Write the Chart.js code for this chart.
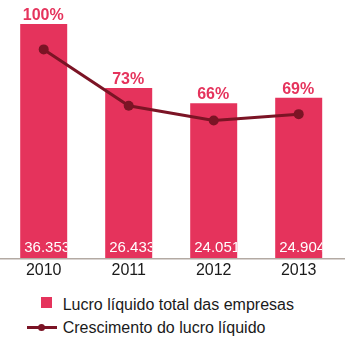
<!DOCTYPE html>
<html>
<head>
<meta charset="utf-8">
<script src="https://cdn.jsdelivr.net/npm/chart.js@4"></script>
<style>
    body { margin: 0; background: #fff; }
    #wrap { position: relative; width: 345px; height: 341px; }
    #chart { position: absolute; left: 0; top: 0; }
    .legend-row { position: absolute; left: 0; width: 345px; height: 18px; font: 16px/18px 'Liberation Sans', Arial, sans-serif; color: #1a1a1a; }
    .legend-row span.txt { position: absolute; left: 62.7px; top: 0; white-space: nowrap; }
    .swatch { position: absolute; left: 40.7px; width: 11.6px; height: 11.6px; background: #e5335c; }
    .lineMark { position: absolute; left: 27.3px; width: 29.4px; height: 3px; background: #7b1425; }
    .lineDot { position: absolute; left: 38.2px; width: 7px; height: 7px; border-radius: 50%; background: #7b1425; }
</style>
</head>
<body>
<div id="wrap">
    <canvas id="chart" width="345" height="285"></canvas>
    <div class="legend-row" id="legendBar" style="top:295.5px">
        <div class="swatch" style="top:1.2px"></div>
        <span class="txt">Lucro líquido total das empresas</span>
    </div>
    <div class="legend-row" id="legendLine" style="top:318.8px">
        <div class="lineMark" style="top:7.4px"></div>
        <div class="lineDot" style="top:5.4px"></div>
        <span class="txt">Crescimento do lucro líquido</span>
    </div>
</div>
<script>
// Data
const years = ['2010', '2011', '2012', '2013'];
const profit = [36353, 26433, 24051, 24904];      // lucro líquido total (bars)
const growthPct = [100, 73, 66, 69];             // crescimento (line + labels above bars)

const barColor = '#e5335c';
const lineColor = '#7b1425';

function fmtThousands(v) {
    return String(v).replace(/\B(?=(\d{3})+(?!\d))/g, '.');
}

// draws axis line, % labels above bars and values inside bars
const labelPlugin = {
    id: 'labelPlugin',
    afterDatasetsDraw(chart) {
        const ctx = chart.ctx;
        const area = chart.chartArea;
        const barMeta = chart.getDatasetMeta(0);

        ctx.save();
        ctx.strokeStyle = '#b3aaa3';
        ctx.lineWidth = 1.5;
        ctx.beginPath();
        ctx.moveTo(0, area.bottom + 0.5);
        ctx.lineTo(chart.width, area.bottom + 0.5);
        ctx.stroke();
        ctx.restore();

        barMeta.data.forEach((bar, i) => {
            const left = bar.x - bar.width / 2;
            // percentage above the bar
            ctx.save();
            ctx.font = 'bold 16px "Liberation Sans", Arial, sans-serif';
            ctx.fillStyle = barColor;
            ctx.textAlign = 'center';
            ctx.textBaseline = 'alphabetic';
            ctx.fillText(growthPct[i] + '%', bar.x - 0.5, bar.y - 4);
            ctx.restore();

            // value inside the bar, clipped to the bar
            ctx.save();
            ctx.beginPath();
            ctx.rect(left, bar.y, bar.width, bar.base - bar.y);
            ctx.clip();
            ctx.font = '15px "Liberation Sans", Arial, sans-serif';
            ctx.fillStyle = '#ffffff';
            ctx.textAlign = 'left';
            ctx.textBaseline = 'alphabetic';
            ctx.fillText(fmtThousands(profit[i]), left + 4, bar.base - 6);
            ctx.restore();
        });
    }
};

Chart.defaults.font.family = '"Liberation Sans", Arial, sans-serif';

const chart = new Chart(document.getElementById('chart').getContext('2d'), {
    type: 'bar',
    data: {
        labels: years,
        datasets: [
            {
                type: 'bar',
                label: 'Lucro líquido total das empresas',
                data: profit,
                backgroundColor: barColor,
                barPercentage: 0.553,
                categoryPercentage: 1,
                yAxisID: 'y',
                order: 1
            },
            {
                type: 'line',
                label: 'Crescimento do lucro líquido',
                data: growthPct,
                borderColor: lineColor,
                backgroundColor: lineColor,
                borderWidth: 3,
                pointRadius: 5,
                pointBackgroundColor: lineColor,
                pointBorderWidth: 0,
                tension: 0,
                yAxisID: 'y1',
                order: 0
            }
        ]
    },
    options: {
        responsive: false,
        animation: false,
        devicePixelRatio: 1,
        layout: { autoPadding: false, padding: { left: 1.2, right: 3.8, top: 0.5, bottom: 1.5 } },
        plugins: {
            legend: { display: false },
            tooltip: { enabled: false }
        },
        scales: {
            x: {
                grid: { display: false, drawTicks: false },
                border: { display: false },
                ticks: { color: '#1a1a1a', font: { size: 16 }, padding: 3 }
            },
            y: { display: false, min: 0, max: 40000 },
            y1: { display: false, min: 0, max: 123.4 }
        }
    },
    plugins: [labelPlugin]
});
</script>
</body>
</html>
